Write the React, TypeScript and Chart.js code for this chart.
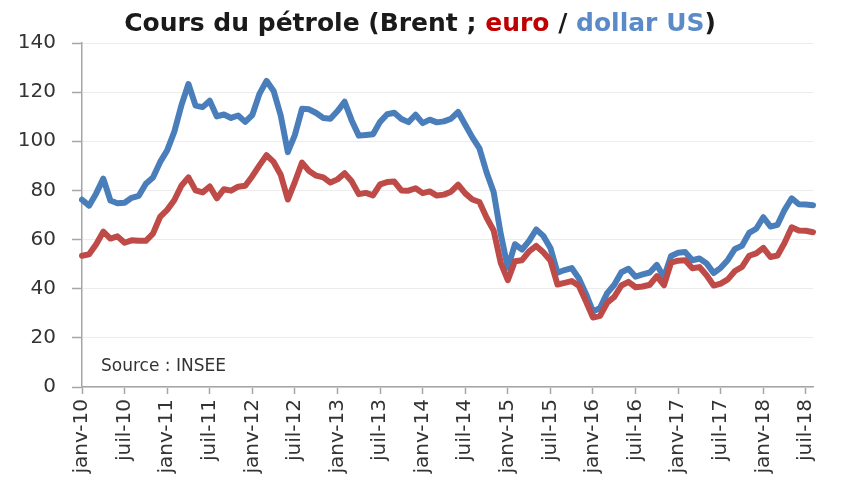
import React, { useEffect, useRef } from "react";
import { Chart, registerables } from "chart.js";

Chart.register(...registerables);

const MONTHS = ["janv", "févr", "mars", "avr", "mai", "juin", "juil", "août", "sept", "oct", "nov", "déc"];
const YEARS = ["10", "11", "12", "13", "14", "15", "16", "17", "18"];

// Brent, dollar US / baril (monthly)
const usd2010 = [76.2, 73.8, 78.8, 84.8, 75.9, 74.8, 75.0, 77.0, 77.8, 82.7, 85.3, 91.5];
const usd2011 = [96.3, 103.8, 114.6, 123.3, 114.5, 113.9, 116.5, 110.1, 110.9, 109.5, 110.5, 107.9];
const usd2012 = [110.7, 119.3, 124.6, 120.5, 110.5, 95.6, 102.6, 113.2, 113.0, 111.5, 109.5, 109.2];
const usd2013 = [112.3, 116.1, 108.5, 102.3, 102.6, 102.9, 107.9, 111.0, 111.6, 109.1, 107.8, 110.8];
const usd2014 = [107.4, 108.8, 107.7, 108.1, 109.2, 111.9, 106.7, 101.6, 97.1, 87.4, 79.4, 62.3];
const usd2015 = [48.5, 58.1, 55.9, 59.5, 64.1, 61.5, 56.6, 46.5, 47.6, 48.4, 44.3, 38.0];
const usd2016 = [30.7, 32.2, 38.2, 41.6, 46.7, 48.1, 44.9, 45.8, 46.6, 49.7, 44.7, 53.3];
const usd2017 = [54.6, 54.9, 51.6, 52.3, 50.3, 46.4, 48.5, 51.7, 56.2, 57.5, 62.7, 64.4];
const usd2018 = [69.1, 65.3, 66.0, 72.1, 76.8, 74.4, 74.3, 74.0];

// Brent, euro / baril (monthly)
const eur2010 = [53.4, 54.0, 58.1, 63.2, 60.4, 61.3, 58.7, 59.7, 59.5, 59.5, 62.4, 69.2];
const eur2011 = [72.1, 76.0, 81.9, 85.3, 80.0, 79.2, 81.6, 76.8, 80.5, 79.9, 81.5, 81.9];
const eur2012 = [85.8, 90.2, 94.3, 91.6, 86.4, 76.3, 83.5, 91.3, 87.9, 86.0, 85.3, 83.2];
const eur2013 = [84.5, 87.0, 83.7, 78.5, 79.0, 78.0, 82.5, 83.4, 83.6, 80.0, 79.9, 80.9];
const eur2014 = [78.9, 79.6, 77.9, 78.3, 79.5, 82.3, 78.8, 76.3, 75.3, 69.0, 63.7, 50.5];
const eur2015 = [43.5, 51.2, 51.6, 55.2, 57.4, 54.8, 51.5, 41.7, 42.4, 43.1, 41.2, 34.9];
const eur2016 = [28.3, 29.0, 34.3, 36.7, 41.3, 42.8, 40.6, 40.9, 41.6, 45.1, 41.4, 50.6];
const eur2017 = [51.4, 51.6, 48.3, 48.8, 45.5, 41.3, 42.1, 43.8, 47.2, 48.9, 53.4, 54.4];
const eur2018 = [56.6, 52.9, 53.5, 58.7, 65.0, 63.7, 63.6, 63.0];

const usdValues = [usd2010, usd2011, usd2012, usd2013, usd2014, usd2015, usd2016, usd2017, usd2018].flat();
const eurValues = [eur2010, eur2011, eur2012, eur2013, eur2014, eur2015, eur2016, eur2017, eur2018].flat();
const labels = YEARS.flatMap((y) => MONTHS.map((m) => `${m}-${y}`)).slice(0, usdValues.length);

const TITLE_PARTS: [string, string][] = [
  ["Cours du pétrole (Brent ; ", "#1a1a1a"],
  ["euro", "#C00000"],
  [" / ", "#1a1a1a"],
  ["dollar US", "#5A8BC8"],
  [")", "#1a1a1a"],
];
const SOURCE_TEXT = "Source : INSEE";

const AXIS_FONT = '"DejaVu Sans", sans-serif';
const AXIS_GRAY = "#A6A6A6";

const overlayPlugin = {
  id: "overlayText",
  afterDraw(chart: any) {
    const ctx = chart.ctx;
    const area = chart.chartArea;
    ctx.save();
    // Title
    ctx.font = 'bold 25px "DejaVu Sans", sans-serif';
    ctx.textBaseline = "alphabetic";
    ctx.textAlign = "left";
    const widths = TITLE_PARTS.map(([t]) => ctx.measureText(t).width);
    const total = widths.reduce((a, b) => a + b, 0);
    let x = 420 - total / 2;
    TITLE_PARTS.forEach(([t, c], i) => {
      ctx.fillStyle = c;
      ctx.fillText(t, x, 31);
      x += widths[i];
    });
    // Source
    ctx.font = '17px "DejaVu Sans", sans-serif';
    ctx.fillStyle = "#333333";
    ctx.textBaseline = "middle";
    ctx.fillText(SOURCE_TEXT, area.left + 19, 367);
    ctx.restore();
  },
};

export default function App() {
  const canvasRef = useRef<HTMLCanvasElement | null>(null);

  useEffect(() => {
    const canvas = canvasRef.current;
    if (!canvas) return;
    const chart = new Chart(canvas, {
      type: "line",
      data: {
        labels,
        datasets: [
          {
            label: "euro",
            data: eurValues,
            borderColor: "#BE4B48",
            backgroundColor: "#BE4B48",
            borderWidth: 6,
            pointRadius: 0,
            tension: 0,
            borderJoinStyle: "round",
            borderCapStyle: "round",
          },
          {
            label: "dollar US",
            data: usdValues,
            borderColor: "#4A7EBB",
            backgroundColor: "#4A7EBB",
            borderWidth: 6,
            pointRadius: 0,
            tension: 0,
            borderJoinStyle: "round",
            borderCapStyle: "round",
          },
        ],
      },
      options: {
        animation: false,
        responsive: true,
        maintainAspectRatio: false,
        layout: { padding: { top: 43, right: 16, left: 0, bottom: 0 } },
        plugins: {
          legend: { display: false },
          title: { display: false },
          tooltip: { enabled: false },
        },
        scales: {
          x: {
            type: "category",
            offset: false,
            afterFit: (scale: any) => {
              scale.height = 93;
            },
            border: { display: true, color: AXIS_GRAY, width: 1.5 },
            grid: {
              drawOnChartArea: false,
              drawTicks: true,
              tickLength: 7,
              tickWidth: 1.5,
              tickColor: (ctx: any) => (ctx.index % 6 === 0 ? AXIS_GRAY : "rgba(0,0,0,0)"),
            },
            ticks: {
              autoSkip: false,
              minRotation: 90,
              maxRotation: 90,
              padding: 5,
              color: "#333333",
              font: { family: AXIS_FONT, size: 20 },
              callback: (_v: any, i: number) => (i % 6 === 0 ? labels[i] : ""),
            },
          },
          y: {
            min: 0,
            max: 140,
            afterFit: (scale: any) => {
              scale.width = 82;
            },
            border: { display: true, color: AXIS_GRAY, width: 1.5 },
            grid: {
              color: "#ECECEC",
              lineWidth: 1,
              drawTicks: true,
              tickLength: 10,
              tickColor: AXIS_GRAY,
              tickWidth: 1.5,
            },
            ticks: {
              stepSize: 20,
              padding: 16,
              color: "#333333",
              font: { family: AXIS_FONT, size: 20 },
            },
          },
        },
      },
      plugins: [overlayPlugin],
    });
    const fonts: any = (document as any).fonts;
    if (fonts && fonts.load) {
      Promise.all([fonts.load('bold 25px "DejaVu Sans"'), fonts.load('20px "DejaVu Sans"')])
        .then(() => chart.update())
        .catch(() => {});
    }
    return () => chart.destroy();
  }, []);

  return (
    <div style={{ position: "absolute", left: 0, top: 0, width: 842, height: 480, background: "#ffffff" }}>
      <canvas ref={canvasRef} />
    </div>
  );
}
